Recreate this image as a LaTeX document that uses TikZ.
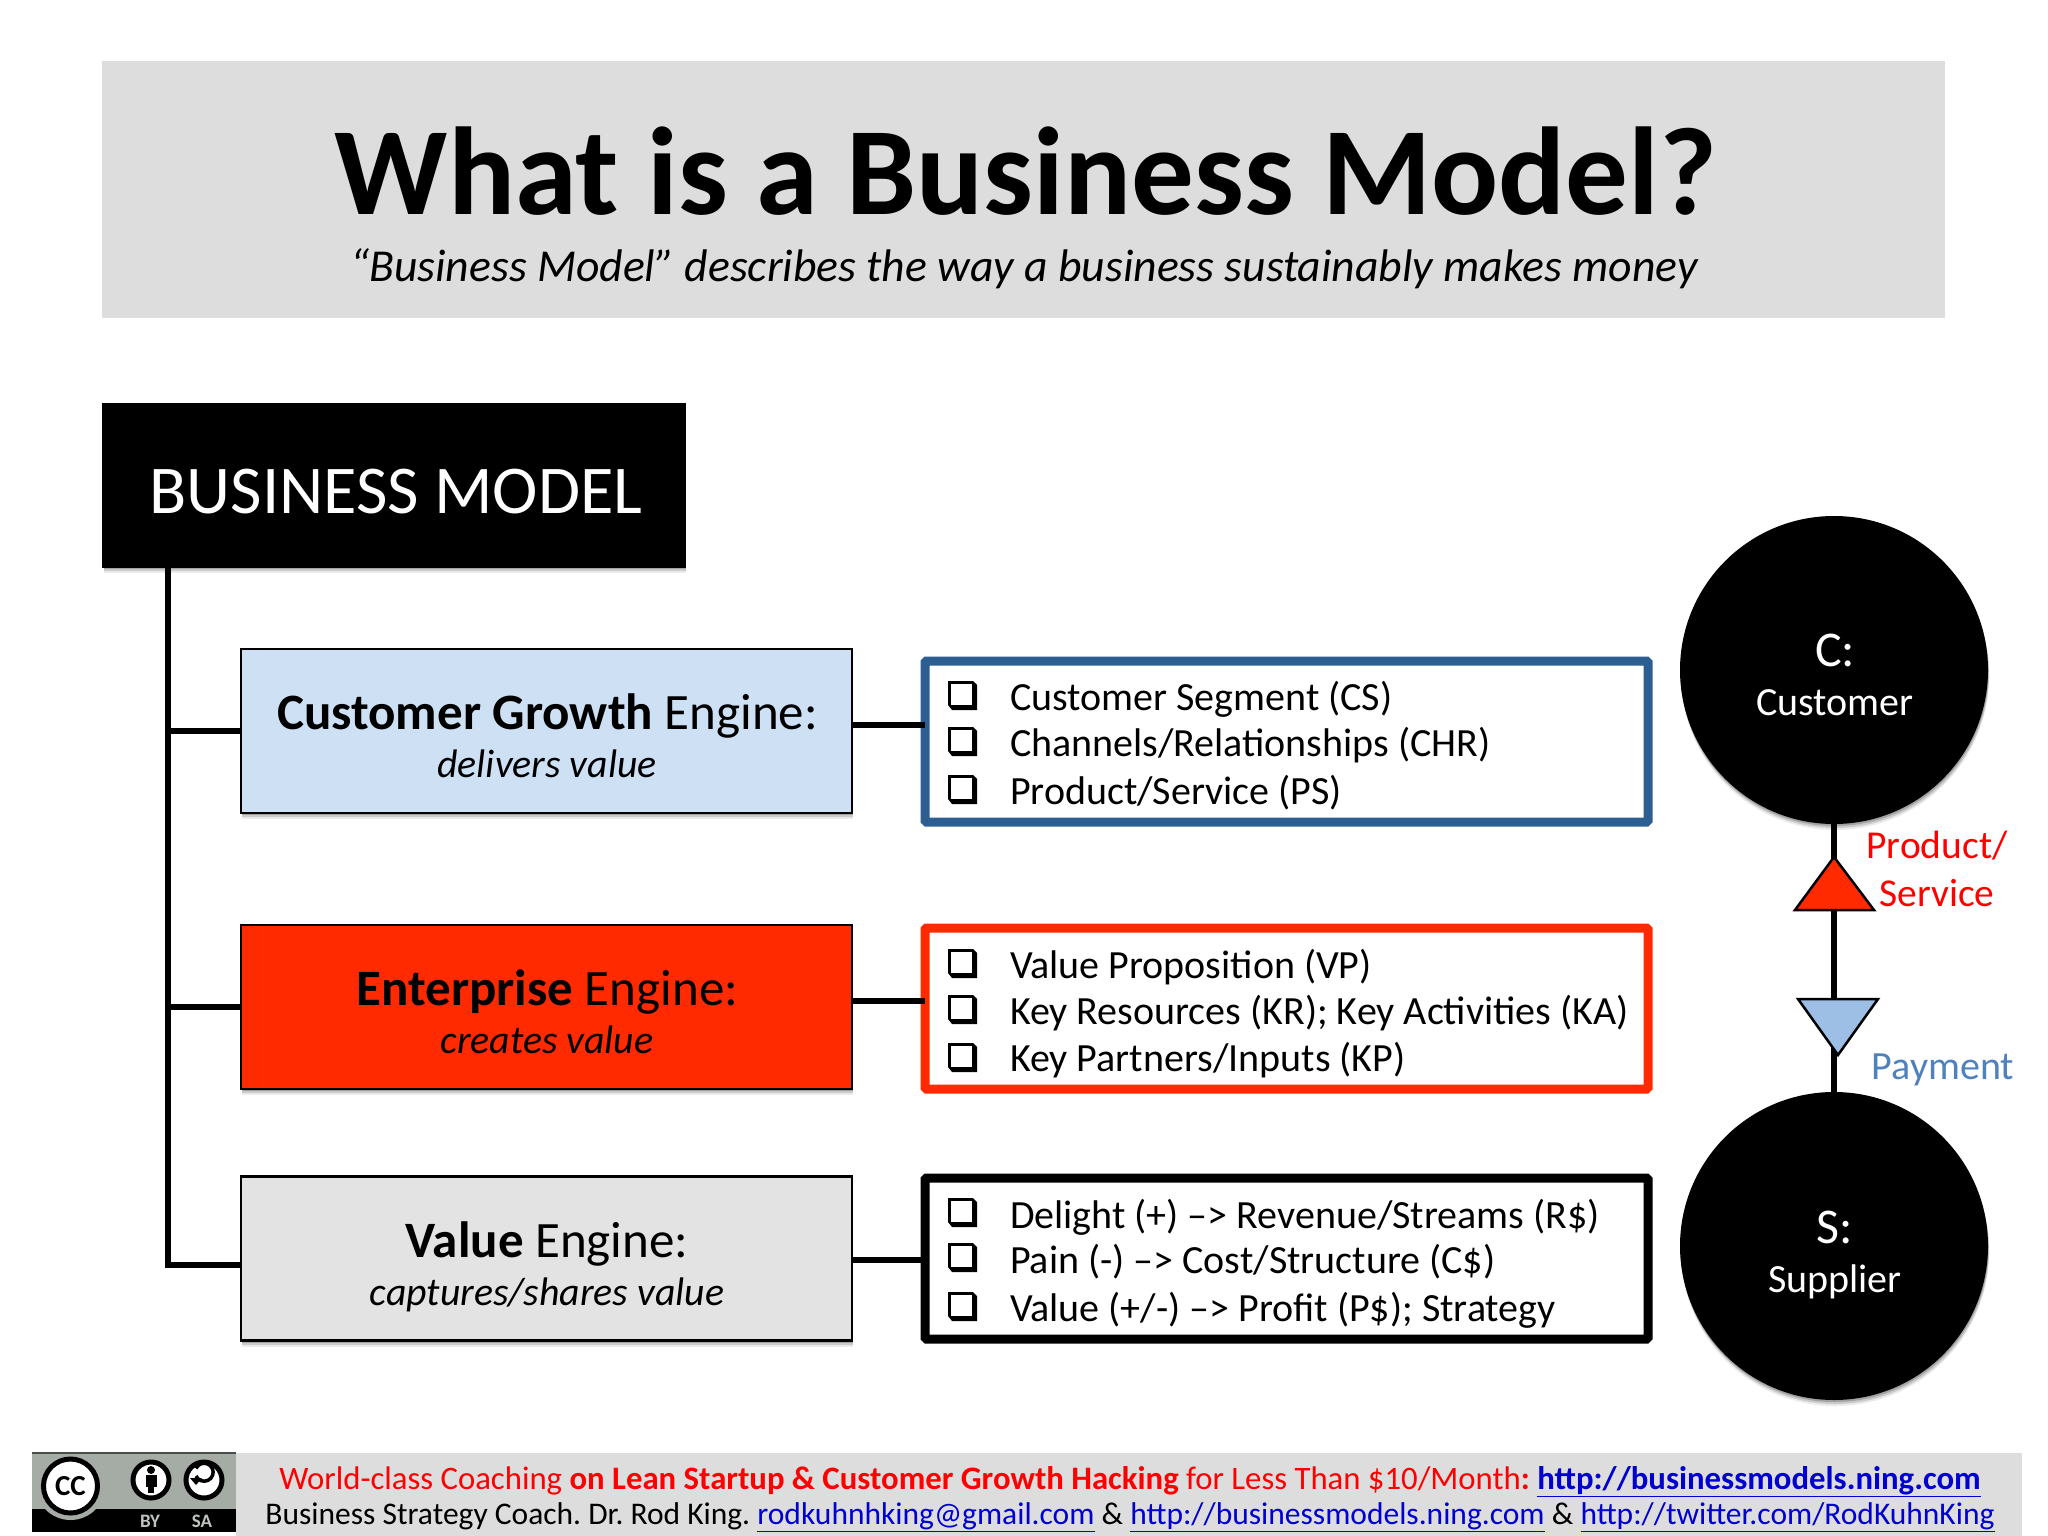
\documentclass[tikz,border=0pt]{standalone}
\usepackage{fontspec}
\setmainfont{Carlito}
\frenchspacing
\usetikzlibrary{shadows,calc}
\definecolor{bandgray}{HTML}{DDDDDD}
\definecolor{cgblue}{HTML}{CEE0F3}
\definecolor{enred}{HTML}{FF2A00}
\definecolor{vegray}{HTML}{E3E3E3}
\definecolor{lblue}{HTML}{2C5E92}
\definecolor{triblue}{HTML}{9DBFE6}
\definecolor{payblue}{HTML}{4F81BD}
\definecolor{linkblue}{HTML}{0000D0}
\definecolor{ccgray}{HTML}{A5ABA5}
\newcommand{\fs}[1]{\fontsize{#1}{#1}\selectfont}
\tikzset{
  softshadow/.style={
    general shadow={shadow xshift=1pt,shadow yshift=-6pt,fill=black,opacity=.08},
    general shadow={shadow xshift=1pt,shadow yshift=-4pt,fill=black,opacity=.14},
    general shadow={shadow xshift=.5pt,shadow yshift=-2pt,fill=black,opacity=.2}},
  box/.style={rectangle,inner sep=0pt,outer sep=0pt,draw=black,line width=2.5pt},
  engine/.style={box,minimum width=611pt,minimum height=164pt,softshadow},
  listbox/.style={rectangle,inner sep=0pt,outer sep=0pt,fill=white,line width=9pt,minimum width=723pt,minimum height=161pt,rounded corners=1.5pt},
  conn/.style={draw=black,line width=5.5pt},
  txt/.style={inner sep=0pt,outer sep=0pt,anchor=base},
  ltxt/.style={inner sep=0pt,outer sep=0pt,anchor=base west,font=\fs{40}},
  circ/.style={circle,inner sep=0pt,outer sep=0pt,fill=black,minimum size=308pt,softshadow},
  tri/.style={draw=black,line width=2.5pt,line join=miter},
  ring/.style={circle,fill=white,draw=black,inner sep=0pt,outer sep=0pt}
}
\begin{document}
\begin{tikzpicture}[x=1pt,y=-1pt]
\useasboundingbox (0,0) rectangle (2048,1536);
% header
\node[rectangle,fill=bandgray,inner sep=0pt,minimum width=1843pt,minimum height=257pt] (band) at (1023.5,189.5) {};
\node[txt,font=\bfseries\fs{125}] (title) at (1026,214) {What is a Business Model?};
\node[txt,font=\itshape\fs{45.7}] (subtitle) at (1024,281.5) {“Business Model” describes the way a business sustainably makes money};
% trunk
\node[box,fill=black,minimum width=582pt,minimum height=162pt,softshadow] (bm) at (394,485.5) {};
\node[txt,font=\fs{68.4},text=white] (bmt) at (396,513) {BUSINESS MODEL};
\coordinate (tt) at (168,567);
\coordinate (tb) at (168,1265);
% engines
\node[engine,fill=cgblue] (cg) at (546.5,731) {};
\node[engine,fill=enred] (en) at (546.5,1007) {};
\node[engine,fill=vegray] (ve) at (546.5,1258.5) {};
\draw[conn] (tt) -- (tb);
\draw[conn] (cg.west -| tt) -- (cg.west);
\draw[conn] (en.west -| tt) -- (en.west);
\draw[conn,line cap=butt] ($(tb)+(-2.75,0)$) -- (tb -| ve.west);
\node[txt,font=\fs{51}] (cgt) at (547.5,729) {\textbf{Customer Growth} Engine:};
\node[txt,font=\itshape\fs{39.8}] (cgs) at (547,777) {delivers value};
\node[txt,font=\fs{51}] (ent) at (547.5,1005) {\textbf{Enterprise} Engine:};
\node[txt,font=\itshape\fs{39.8}] (ens) at (547,1053) {creates value};
\node[txt,font=\fs{51}] (vet) at (547,1257) {\textbf{Value} Engine:};
\node[txt,font=\itshape\fs{39.8}] (ves) at (547,1305) {captures/shares value};
% lists
\node[listbox,draw=lblue] (l1) at (1286.5,741.5) {};
\node[listbox,draw=enred] (l2) at (1286.5,1008.5) {};
\node[listbox,draw=black] (l3) at (1286.5,1258.5) {};
\coordinate (r1) at (852,725);
\coordinate (r2) at (852,1001);
\coordinate (r3) at (852,1260);
\draw[conn] (r1) -- (r1 -| l1.west);
\draw[conn] (r2) -- (r2 -| l2.west);
\draw[conn] (r3) -- (r3 -| l3.west);
\node[ltxt] (a1) at (1010,710) {Customer Segment (CS)};
\node[ltxt] (a2) at (1010,756) {Channels/Relationships (CHR)};
\node[ltxt] (a3) at (1010,804) {Product/Service (PS)};
\node[ltxt] (b1) at (1010,978) {Value Proposition (VP)};
\node[ltxt] (b2) at (1010,1024) {Key Resources (KR); Key Activities (KA)};
\node[ltxt] (b3) at (1010,1071.5) {Key Partners/Inputs (KP)};
\node[ltxt] (c1) at (1010,1228) {Delight (+) –> Revenue/Streams (R\$)};
\node[ltxt] (c2) at (1010,1273.5) {Pain (-) –> Cost/Structure (C\$)};
\node[ltxt] (c3) at (1010,1321.5) {Value (+/-) –> Profit (P\$); Strategy};
\foreach \y in {681,727,775,949,995,1043,1198,1243,1292}{
  \fill[black] (948,\y) -- (973,\y) -- (977,\y+4) -- (977,\y+29) -- (952,\y+29) -- (948,\y+24) -- cycle;
  \fill[white] (951,\y+3) rectangle (972,\y+24);
}
% circles
\node[circ] (cust) at (1834,670) {};
\node[circ] (supp) at (1834,1246) {};
\draw[conn] (cust.south) -- (supp.north);
\node[txt,font=\fs{50},text=white] (ct) at (1835,666) {C:};
\node[txt,font=\fs{40},text=white] (cn) at (1835,715) {Customer};
\node[txt,font=\fs{50},text=white] (st) at (1835,1243) {S:};
\node[txt,font=\fs{40},text=white] (sn) at (1835,1292) {Supplier};
\draw[tri,fill=enred] (1834,857) -- (1874,910) -- (1795,910) -- cycle;
\draw[tri,fill=triblue] (1798,999) -- (1878,999) -- (1838,1055) -- cycle;
\node[txt,font=\fs{39.5},text=red] (ps1) at (1937,858) {Product/};
\node[txt,font=\fs{39.5},text=red] (ps2) at (1937,906) {Service};
\node[txt,font=\fs{40},text=payblue] (pay) at (1943,1079) {Payment};
% footer
\node[rectangle,fill=bandgray,inner sep=0pt,minimum width=1786pt,minimum height=83pt] (fband) at (1129,1494.5) {};
\node[txt,font=\fs{32.75}] (f1) at (1130,1489) {\textcolor{red}{World-class Coaching \textbf{on Lean Startup \& Customer Growth Hacking} for Less Than \$10/Month\textbf{:} }\textcolor{linkblue}{\underline{\textbf{http://businessmodels.ning.com}}}};
\node[txt,font=\fs{31.5}] (f2) at (1130,1524) {Business Strategy Coach. Dr. Rod King. \textcolor{linkblue}{\underline{rodkuhnhking@gmail.com}} \& \textcolor{linkblue}{\underline{http://businessmodels.ning.com}} \& \textcolor{linkblue}{\underline{http://twitter.com/RodKuhnKing}}};
% licence badge
\fill[ccgray] (32,1452) rectangle (236,1532);
\fill[black] (32,1509) rectangle (236,1532);
\fill[black!70] (32,1452) rectangle (236,1454);
\begin{scope}
  \clip (32,1454) rectangle (236,1532);
  \fill[ccgray] (70.5,1485) circle (35);
\end{scope}
\node[ring,line width=5pt,minimum size=54pt,font=\bfseries\fs{29}] (cc) at (70.5,1486) {CC};
\node[ring,line width=5pt,minimum size=36pt] (by) at (151,1480) {};
\fill[black] (151,1470) circle (4);
\fill[black] (146,1475) rectangle (157,1487);
\fill[black] (148,1487) rectangle (154,1493);
\node[ring,line width=5pt,minimum size=36pt] (sa) at (204,1480) {};
\draw[black,line width=3.5pt] (196,1476) arc[start angle=155,end angle=-155,radius=9];
\fill[black] (190,1478) -- (202,1478) -- (196,1485) -- cycle;
\node[txt,font=\bfseries\fs{19},text=ccgray!70!white] (byt) at (150,1527) {BY};
\node[txt,font=\bfseries\fs{19},text=ccgray!70!white] (sat) at (202,1527) {SA};
\end{tikzpicture}
\end{document}
